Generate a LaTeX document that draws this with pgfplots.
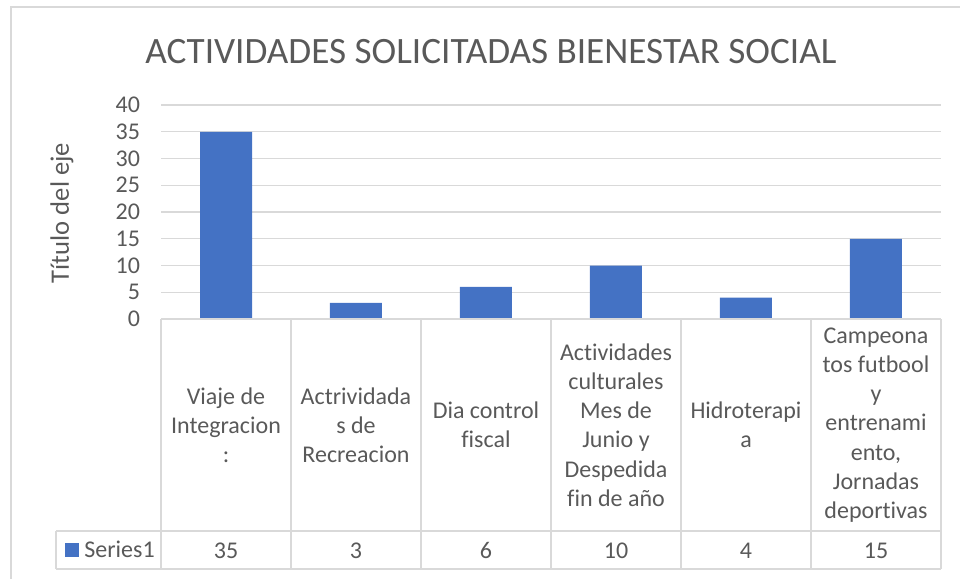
\documentclass[border=0pt]{standalone}
\usepackage{pgfplots}
\pgfplotsset{compat=1.18}
\usepackage{fontspec}
\setmainfont{Carlito}[Ligatures=NoCommon]
\definecolor{barc}{HTML}{4472C4}
\definecolor{txt}{HTML}{595959}
\definecolor{gridc}{HTML}{D9D9D9}
\begin{document}
\begin{tikzpicture}[x=1pt,y=1pt]
\useasboundingbox (0,0) rectangle (480,-289.5);
\draw[gridc, line width=0.9pt] (5.5,-289.5) -- (5.5,-3.5) -- (480,-3.5);
\node[text=txt, font=\fontsize{18.6}{22}\selectfont] at (245.5,-26) {ACTIVIDADES SOLICITADAS BIENESTAR SOCIAL};
\node[text=txt, rotate=90, font=\fontsize{13.3}{16}\selectfont] at (31,-106.5) {Título del eje};
\begin{axis}[
  at={(80.5pt,-159.5pt)}, anchor=south west,
  width=390pt, height=107pt, scale only axis,
  xmin=-0.5, xmax=5.5, ymin=0, ymax=40,
  ytick={0,5,...,40}, xtick=\empty,
  axis line style={draw=none},
  ymajorgrids, grid style={gridc, line width=0.7pt},
  major tick length=0pt,
  /pgf/number format/assume math mode=true,
  yticklabel style={font=\fontsize{12}{14}\selectfont, text=txt, anchor=east, xshift=-7pt},
  clip=false,
]
\addplot[ybar, bar width=26pt, fill=barc, draw=none] coordinates {(0,35) (1,3) (2,6) (3,10) (4,4) (5,15)};
\end{axis}
% data table
\begin{scope}[gridc, line width=0.8pt]
\foreach \k in {0,...,6} { \draw (80.5+65*\k,-159.5) -- (80.5+65*\k,-284.5); }
\draw (80.5,-159.5) -- (470.5,-159.5);
\draw (28,-265.5) -- (470.5,-265.5);
\draw (28,-284.5) -- (470.5,-284.5);
\draw (28,-265.5) -- (28,-284.5);
\end{scope}
\begin{scope}[every node/.style={text=txt, align=center, font=\fontsize{12}{14.6}\selectfont}]
\node at (113,-212.5) {Viaje de\\Integracion\\:};
\node at (178,-212.5) {Actrividada\\s de\\Recreacion};
\node at (243,-212.5) {Dia control\\fiscal};
\node at (308,-212.5) {Actividades\\culturales\\Mes de\\Junio y\\Despedida\\fin de año};
\node at (373,-212.5) {Hidroterapi\\a};
\node at (438,-212.5) {Campeona\\tos futbool\\y\\entrenami\\ento,\\Jornadas\\deportivas};
\node[anchor=base] at (113,-279) {35};
\node[anchor=base] at (178,-279) {3};
\node[anchor=base] at (243,-279) {6};
\node[anchor=base] at (308,-279) {10};
\node[anchor=base] at (373,-279) {4};
\node[anchor=base] at (438,-279) {15};
\node[anchor=base west, inner sep=0pt] at (32.5,-278.5) {{\color{barc}\rule{7pt}{7pt}}\hspace{2.5pt}Series1};
\end{scope}
\end{tikzpicture}
\end{document}
